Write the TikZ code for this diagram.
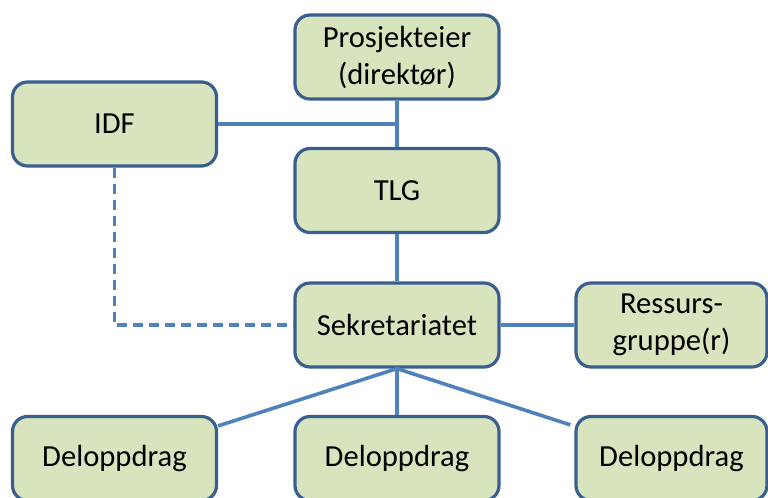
\documentclass[tikz,border=0pt]{standalone}
\usepackage{fontspec}
\setmainfont{Carlito}
\usetikzlibrary{calc}
\definecolor{boxfill}{HTML}{D7E4BD}
\definecolor{boxline}{HTML}{3A5F8F}
\definecolor{conn}{HTML}{4F81BD}
\begin{document}
\begin{tikzpicture}[x=0.5pt,y=-0.5pt,
  box/.style={draw=boxline,fill=boxfill,line width=1.6pt,rounded corners=7.5pt,
    minimum width=102pt,minimum height=42pt,align=center,inner sep=2pt,
    font=\fontsize{15.3}{18.5}\selectfont},
  link/.style={draw=conn,line width=1.8pt},
  dlink/.style={link,dash pattern=on 5pt off 3pt}]
\useasboundingbox (0,0) rectangle (768,498);
\node[box] (pe) at (397,57) {Prosjekteier\\(direktør)};
\node[box] (idf) at (114.5,124) {IDF};
\node[box] (tlg) at (397,190.5) {TLG};
\node[box] (sek) at (397,325) {Sekretariatet};
\node[box,minimum width=95.5pt] (res) at (671.5,325) {Ressurs-\\gruppe(r)};
\node[box] (d1) at (114.5,458.5) {Deloppdrag};
\node[box] (d2) at (397,458.5) {Deloppdrag};
\node[box,minimum width=95.5pt] (d3) at (671.5,458.5) {Deloppdrag};
\coordinate (j) at (pe.south |- idf.east);
\coordinate (e1) at ($(d1.north east)+(0,11)$);
\coordinate (e3) at ($(d3.north west)+(-4,10)$);
\draw[link] (pe.south) -- (tlg.north);
\draw[link] (idf.east) -- (j);
\draw[link] (tlg.south) -- (sek.north);
\draw[link] (sek.east) -- (res.west);
\draw[dlink] (idf.south) |- (sek.west);
\draw[link] (sek.south) -- (e1);
\draw[link] (sek.south) -- (d2.north);
\draw[link] (sek.south) -- (e3);
\end{tikzpicture}
\end{document}
